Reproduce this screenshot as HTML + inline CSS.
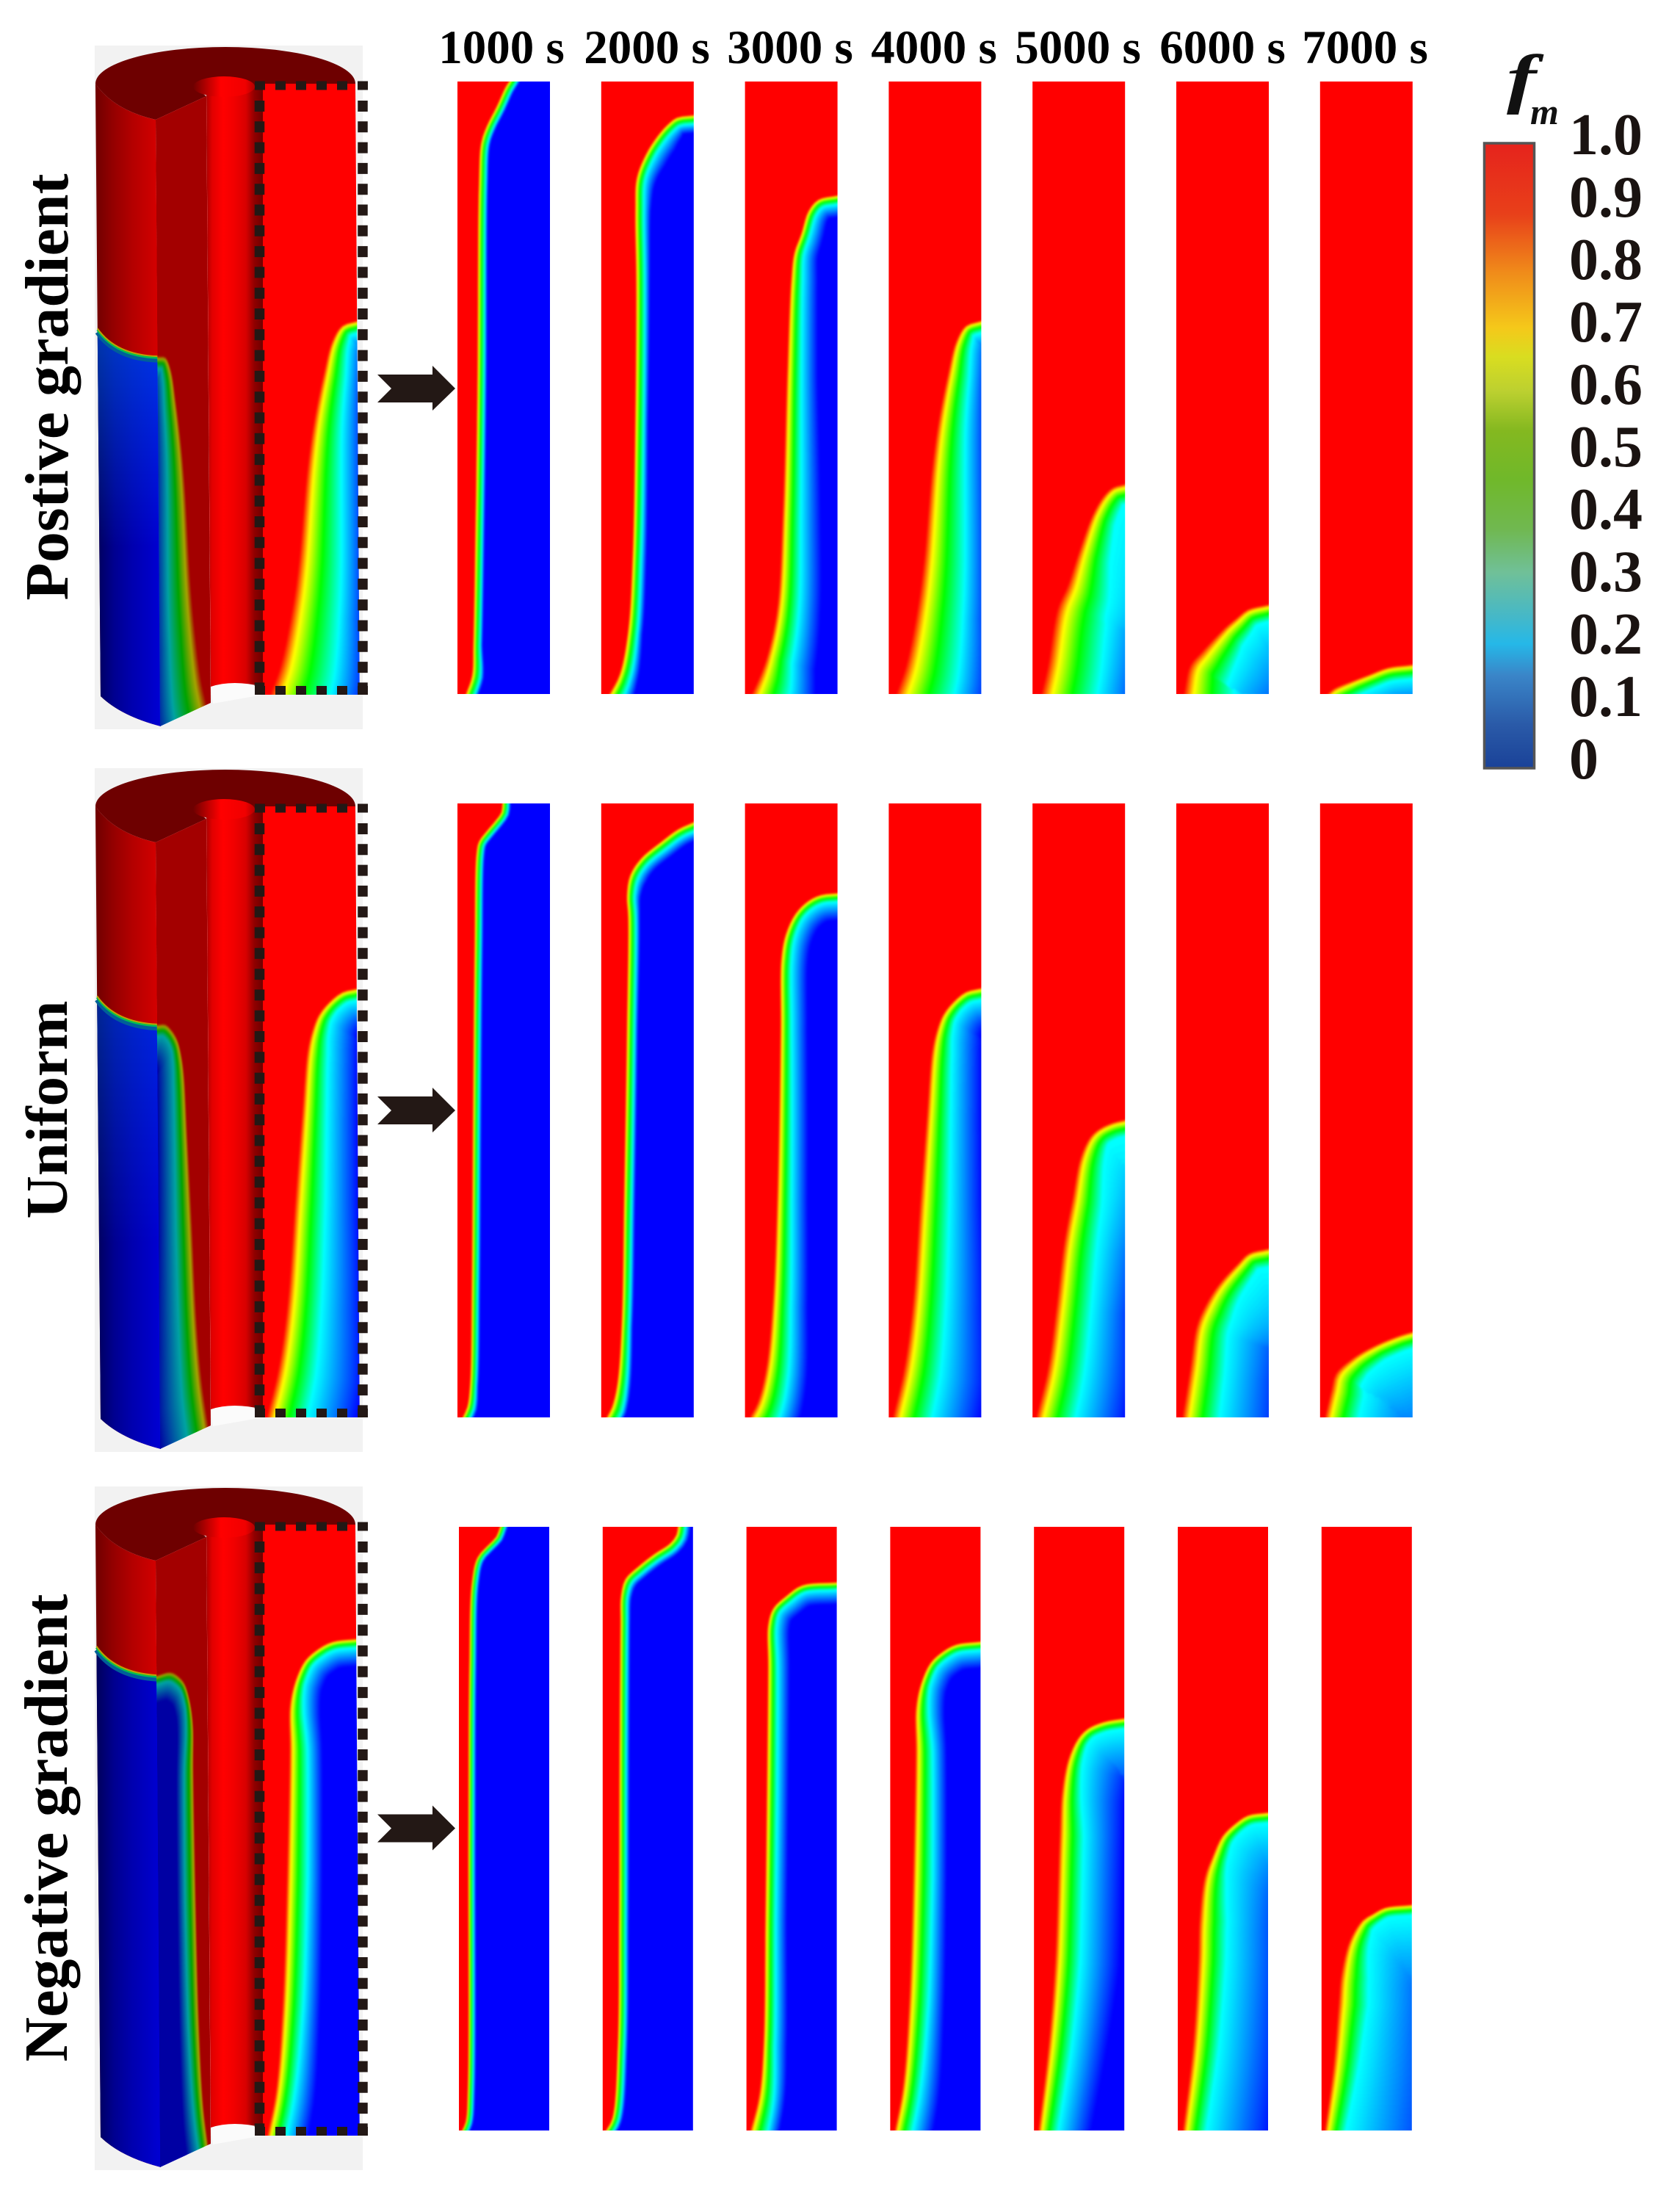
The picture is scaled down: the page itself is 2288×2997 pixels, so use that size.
<!DOCTYPE html>
<html lang="en">
<head>
<meta charset="utf-8">
<title>Melt fraction evolution for gradient cases</title>
<style>
html,body{margin:0;padding:0;background:#fff;width:2288px;height:2997px;overflow:hidden;}
svg{display:block;}
text{font-family:"Liberation Serif",serif;font-weight:bold;}
</style>
</head>
<body>
<svg id="figure" xmlns="http://www.w3.org/2000/svg" width="2288" height="2997" viewBox="0 0 2288 2997">
  <defs>
    <filter id="field-blur" x="-5%" y="-5%" width="110%" height="110%" color-interpolation-filters="sRGB">
      <feGaussianBlur stdDeviation="1.4"/>
    </filter>
    <linearGradient id="colorbar-gradient" x1="0" y1="0" x2="0" y2="1">
      <stop offset="0" stop-color="#e6231c"/>
      <stop offset="0.114" stop-color="#e8401a"/>
      <stop offset="0.208" stop-color="#f08c1a"/>
      <stop offset="0.295" stop-color="#f5c81a"/>
      <stop offset="0.342" stop-color="#d9dd20"/>
      <stop offset="0.397" stop-color="#bcd030"/>
      <stop offset="0.46" stop-color="#84b820"/>
      <stop offset="0.538" stop-color="#70b82a"/>
      <stop offset="0.617" stop-color="#70b850"/>
      <stop offset="0.687" stop-color="#70c098"/>
      <stop offset="0.758" stop-color="#45b8c8"/>
      <stop offset="0.801" stop-color="#25b8e8"/>
      <stop offset="0.852" stop-color="#3a85c8"/>
      <stop offset="0.931" stop-color="#2a5aa8"/>
      <stop offset="1" stop-color="#1a4298"/>
    </linearGradient>
    <linearGradient id="outer-red" gradientUnits="userSpaceOnUse" x1="130" y1="0" x2="215" y2="0">
      <stop offset="0" stop-color="#700000"/>
      <stop offset="0.3" stop-color="#960000"/>
      <stop offset="0.6" stop-color="#b40000"/>
      <stop offset="1" stop-color="#d40000"/>
    </linearGradient>
    <linearGradient id="outer-blue" gradientUnits="userSpaceOnUse" x1="130" y1="0" x2="215" y2="0">
      <stop offset="0" stop-color="#000058"/>
      <stop offset="0.3" stop-color="#000090"/>
      <stop offset="0.6" stop-color="#0000b0"/>
      <stop offset="1" stop-color="#0000d0"/>
    </linearGradient>
    <linearGradient id="outer-tint" x1="0" y1="0" x2="0" y2="1">
      <stop offset="0" stop-color="#0070ff" stop-opacity="1"/>
      <stop offset="0.55" stop-color="#0070ff" stop-opacity="0"/>
    </linearGradient>
    <linearGradient id="core-body" gradientUnits="userSpaceOnUse" x1="281" y1="0" x2="358" y2="0">
      <stop offset="0" stop-color="#a80000"/>
      <stop offset="0.1" stop-color="#e00000"/>
      <stop offset="0.3" stop-color="#ff0000"/>
      <stop offset="0.5" stop-color="#f00000"/>
      <stop offset="0.7" stop-color="#d80000"/>
      <stop offset="0.85" stop-color="#900000"/>
      <stop offset="1" stop-color="#700000"/>
    </linearGradient>
    <linearGradient id="core-cap" gradientUnits="userSpaceOnUse" x1="263" y1="0" x2="347" y2="0">
      <stop offset="0" stop-color="#6e0000"/>
      <stop offset="0.25" stop-color="#c00000"/>
      <stop offset="0.45" stop-color="#ff0000"/>
      <stop offset="0.85" stop-color="#f00000"/>
      <stop offset="1" stop-color="#b00000"/>
    </linearGradient>
  </defs>

  <g id="views"></g>
  <g id="panels"></g>

  <g font-size="65" text-anchor="middle" fill="#000">
    <text x="683" y="86">1000 s</text>
    <text x="881" y="86">2000 s</text>
    <text x="1076" y="86">3000 s</text>
    <text x="1272" y="86">4000 s</text>
    <text x="1468" y="86">5000 s</text>
    <text x="1665" y="86">6000 s</text>
    <text x="1859" y="86">7000 s</text>
  </g>

  <g text-anchor="middle" fill="#000">
    <text font-size="84" transform="translate(92,527) rotate(-90)">Postive gradient</text>
    <text font-size="81" transform="translate(91,1511) rotate(-90)">Uniform</text>
    <text font-size="84" transform="translate(91,2489) rotate(-90)">Negative gradient</text>
  </g>

  <g>
    <rect x="2021.5" y="195" width="68" height="851" fill="url(#colorbar-gradient)" stroke="#555" stroke-width="3.5"/>
    <text transform="translate(2052,137) scale(1.35,1)" font-size="90" font-style="italic" fill="#111">f</text>
    <text x="2084" y="169" font-size="50" font-style="italic" fill="#111">m</text>
    <g id="colorbar-ticks"></g>
  </g>
</svg>

<script>
const caseNames = ['positive', 'uniform', 'negative'];
const timeSeconds = [1000, 2000, 3000, 4000, 5000, 6000, 7000];
const colorbarValues = [1, 0.9, 0.8, 0.7, 0.6, 0.5, 0.4, 0.3, 0.2, 0.1, 0];
const colorbarLabels = ['1.0', '0.9', '0.8', '0.7', '0.6', '0.5', '0.4', '0.3', '0.2', '0.1', '0'];
const wallTint = [0.5, 0.35, 0];

// Each profile row: radial position of the melt front, height, depth to fm=0.25, depth to fm=0.
const positiveInterface = [
  [[.085,0,.1,.14],[.15,.03,.1,.14],[.165,.08,.08,.11],[.19,.29,.08,.11],[.21,.52,.08,.11],[.225,.83,.08,.11],[.25,.90,.08,.11],[.31,.927,.08,.11],[.42,.96,.08,.11],[.51,.99,.08,.11],[.55,1,.08,.11]],
  [[.08,0,.16,.28],[.19,.032,.13,.22],[.28,.10,.11,.17],[.33,.216,.1,.16],[.36,.445,.1,.15],[.37,.674,.1,.16],[.36,.789,.1,.18],[.376,.842,.1,.22],[.475,.881,.1,.25],[.6,.911,.1,.25],[.71,.93,.1,.22],[.816,.942,.1,.2],[1,.946,.1,.2]],
  [[.065,0,.42,.7],[.16,.032,.36,.65],[.234,.063,.28,.55],[.34,.139,.24,.48],[.40,.292,.2,.42],[.447,.521,.16,.34],[.49,.674,.13,.3],[.525,.72,.11,.27],[.60,.751,.1,.25],[.68,.789,.1,.24],[.79,.808,.1,.24],[1,.815,.1,.24]],
  [[.07,0,.62,1],[.177,.047,.58,.95],[.30,.139,.5,.8],[.37,.216,.45,.72],[.46,.368,.36,.62],[.53,.445,.3,.55],[.63,.521,.24,.45],[.72,.575,.18,.4],[.83,.602,.14,.38],[.99,.61,.13,.38]],
  [[.085,0,.6,1.1],[.156,.047,.58,1.1],[.26,.139,.55,1.2],[.37,.177,.48,1.5],[.49,.231,.36,2],[.64,.292,.27,2.5],[.76,.323,.24,3],[.865,.338,.22,3],[1,.344,.22,3]],
  [[.07,0,.55,1.1],[.14,.047,.5,1.15],[.27,.07,.42,1.2],[.52,.109,.28,1.3],[.64,.124,.24,1.3],[.77,.139,.2,1.3],[.99,.147,.18,1.3]],
  [[.07,0,.25,.7],[.14,.009,.22,.7],[.38,.024,.17,.6],[.52,.032,.16,.58],[.73,.044,.16,.56],[.985,.049,.16,.56]]
];
const uniformInterface = [
  [[.05,0,.08,.12],[.10,.017,.08,.12],[.13,.052,.07,.1],[.15,.216,.07,.1],[.163,.491,.07,.1],[.18,.766,.07,.1],[.2,.918,.07,.1],[.227,.938,.07,.1],[.31,.955,.07,.1],[.41,.973,.07,.1],[.47,.986,.07,.1],[.48,1,.07,.1]],
  [[.05,0,.13,.18],[.106,.017,.13,.18],[.163,.052,.11,.16],[.213,.148,.09,.13],[.24,.354,.09,.13],[.27,.629,.09,.13],[.284,.814,.09,.14],[.27,.849,.09,.16],[.305,.883,.1,.2],[.425,.911,.1,.2],[.64,.938,.1,.2],[.83,.959,.1,.2],[.99,.97,.1,.2]],
  [[.043,0,.3,.53],[.128,.024,.28,.5],[.22,.079,.25,.46],[.29,.182,.2,.39],[.34,.354,.16,.34],[.376,.629,.125,.3],[.383,.746,.12,.3],[.433,.787,.11,.3],[.54,.821,.1,.3],[.68,.842,.1,.3],[.82,.852,.1,.3],[1,.855,.1,.3]],
  [[.035,0,.42,.95],[.156,.079,.4,.92],[.25,.182,.36,.8],[.333,.354,.32,.68],[.404,.491,.26,.6],[.46,.595,.22,.55],[.51,.629,.18,.52],[.58,.656,.15,.48],[.69,.677,.13,.45],[.83,.694,.13,.45],[.99,.70,.13,.45]],
  [[.03,0,.42,1],[.156,.079,.4,.95],[.25,.182,.38,.88],[.333,.285,.36,.95],[.42,.354,.33,1.1],[.51,.423,.27,1.5],[.617,.457,.22,2],[.72,.471,.19,2.6],[.865,.481,.18,3],[1,.486,.18,3]],
  [[.057,0,.4,1.1],[.14,.079,.38,1.05],[.21,.148,.35,1.1],[.305,.182,.33,1.3],[.447,.216,.28,1.6],[.66,.251,.22,2],[.78,.268,.2,2.4],[.99,.276,.2,2.4]],
  [[.043,0,.36,1.3],[.113,.045,.36,1.3],[.163,.072,.34,1.3],[.376,.1,.24,1.4],[.62,.12,.19,1.6],[.87,.135,.18,1.6],[.985,.14,.18,1.6]]
];
const negativeInterface = [
  [[.03,0,.06,.09],[.07,.014,.06,.09],[.094,.07,.06,.09],[.10,.488,.06,.09],[.11,.768,.06,.09],[.138,.907,.06,.09],[.2,.949,.06,.09],[.32,.97,.06,.09],[.41,.984,.06,.09],[.45,1,.06,.09]],
  [[.03,0,.08,.12],[.10,.02,.08,.12],[.16,.14,.08,.12],[.174,.349,.08,.12],[.18,.628,.08,.12],[.19,.837,.08,.12],[.196,.886,.08,.13],[.246,.914,.09,.15],[.39,.935,.09,.15],[.57,.956,.09,.15],[.74,.973,.09,.15],[.81,.987,.09,.15],[.826,1,.09,.15]],
  [[.036,0,.2,.33],[.13,.056,.17,.3],[.18,.14,.13,.27],[.2,.349,.12,.25],[.217,.558,.12,.25],[.232,.768,.11,.25],[.232,.837,.1,.25],[.29,.865,.09,.25],[.435,.886,.09,.25],[.616,.904,.09,.25],[1,.909,.09,.25]],
  [[.043,0,.2,.43],[.13,.07,.2,.42],[.2,.209,.22,.4],[.246,.419,.22,.38],[.275,.628,.19,.35],[.275,.698,.15,.33],[.333,.74,.11,.3],[.44,.775,.1,.3],[.587,.795,.1,.3],[.73,.806,.1,.3],[1,.811,.1,.3]],
  [[.043,0,.22,.58],[.152,.14,.26,.65],[.225,.279,.28,.72],[.275,.488,.27,.72],[.3,.558,.22,.72],[.37,.614,.17,.75],[.478,.649,.13,.85],[.587,.666,.12,.9],[.77,.678,.12,.9],[1,.684,.12,.9]],
  [[.05,0,.26,1],[.16,.14,.29,1],[.217,.279,.31,1],[.232,.349,.31,1],[.29,.419,.25,1.05],[.377,.454,.18,1.1],[.486,.488,.14,1.2],[.63,.509,.12,1.2],[.775,.523,.12,1.2],[1,.528,.12,1.2]],
  [[.03,0,.23,1.3],[.123,.105,.28,1.25],[.18,.209,.33,1.2],[.21,.258,.31,1.2],[.304,.314,.23,1.3],[.45,.349,.16,1.5],[.558,.359,.13,1.6],[.70,.37,.12,1.6],[1,.375,.12,1.6]]
];

const caseProfiles = [positiveInterface, uniformInterface, negativeInterface];

const NS = 'http://www.w3.org/2000/svg';
const rowTop = [111, 1094, 2079];
const rowHeight = [834, 836, 822];
const rowLeft = [623, 623, 625];
const rowWidth = [126, 126, 123];
const panelPitch = 195.8;
const viewShift = [0, 984, 1962];
const arrowCentre = [529, 1512, 2489.5];
const headBands = 30;
const tailBands = 36;
const snapshotForView = 3;
const svgRoot = document.getElementById('figure');
const viewsLayer = document.getElementById('views');
const panelsLayer = document.getElementById('panels');
let clipCounter = 0;

function make(tag, attrs, parent) {
  const node = document.createElementNS(NS, tag);
  for (const key in attrs) node.setAttribute(key, attrs[key]);
  if (parent) parent.appendChild(node);
  return node;
}

function jetColor(f) {
  const clamp = v => Math.max(0, Math.min(1, v));
  const r = clamp(4 * f - 2);
  const g = f < 0.25 ? clamp(4 * f) : (f > 0.75 ? clamp(4 * (1 - f)) : 1);
  const b = clamp(2 - 4 * f);
  return 'rgb(' + Math.round(r * 255) + ',' + Math.round(g * 255) + ',' + Math.round(b * 255) + ')';
}

function smoothCurve(profile, W, H) {
  const pts = profile.map(p => ({ x: p[0] * W, y: (1 - p[1]) * H, a: p[2] * W, b: p[3] * W }));
  const out = [];
  const gap = (a, b) => Math.max(1e-3, Math.sqrt(Math.hypot(b.x - a.x, b.y - a.y)));
  const mix = (a, b, ta, tb, t, key) => ((tb - t) * a[key] + (t - ta) * b[key]) / (tb - ta);
  for (let i = 0; i < pts.length - 1; i++) {
    const p1 = pts[i];
    const p2 = pts[i + 1];
    const p0 = pts[i - 1] || { x: 2 * p1.x - p2.x, y: 2 * p1.y - p2.y };
    const p3 = pts[i + 2] || { x: 2 * p2.x - p1.x, y: 2 * p2.y - p1.y };
    const t0 = 0;
    const t1 = t0 + gap(p0, p1);
    const t2 = t1 + gap(p1, p2);
    const t3 = t2 + gap(p2, p3);
    const len = Math.hypot(p2.x - p1.x, p2.y - p1.y);
    const n = Math.max(2, Math.min(14, Math.ceil(len / 8)));
    for (let k = 0; k < n; k++) {
      const u = k / n;
      const t = t1 + u * (t2 - t1);
      const pos = {};
      for (const key of ['x', 'y']) {
        const a1 = mix(p0, p1, t0, t1, t, key);
        const a2 = mix(p1, p2, t1, t2, t, key);
        const a3 = mix(p2, p3, t2, t3, t, key);
        const b1 = ((t2 - t) * a1 + (t - t0) * a2) / (t2 - t0);
        const b2 = ((t3 - t) * a2 + (t - t1) * a3) / (t3 - t1);
        pos[key] = ((t2 - t) * b1 + (t - t1) * b2) / (t2 - t1);
      }
      pos.a = p1.a + (p2.a - p1.a) * u;
      pos.b = p1.b + (p2.b - p1.b) * u;
      out.push(pos);
    }
  }
  const end = pts[pts.length - 1];
  out.push({ x: end.x, y: end.y, a: end.a, b: end.b });
  for (let i = 0; i < out.length; i++) {
    const a = out[Math.max(0, i - 2)];
    const b = out[Math.min(out.length - 1, i + 2)];
    const d = Math.max(1e-3, Math.hypot(b.x - a.x, b.y - a.y));
    out[i].tx = (b.x - a.x) / d;
    out[i].ty = (b.y - a.y) / d;
  }
  const first = out[0];
  const last = out[out.length - 1];
  const startExt = { x: first.x - first.tx * 35, y: first.y - first.ty * 35, a: first.a, b: first.b, tx: first.tx, ty: first.ty };
  const endExt = { x: last.x + last.tx * 35, y: last.y + last.ty * 35, a: last.a, b: last.b, tx: last.tx, ty: last.ty };
  return [startExt].concat(out, [endExt]);
}

function depthAtLevel(q, f) {
  if (f >= 0.25) {
    const s = (1 - f) / 0.75;
    const warped = s < 0.33 ? s * 0.6 : (s < 0.67 ? 0.2 + (s - 0.33) * 1.03 : 0.55 + (s - 0.67) * 1.36);
    return warped * q.a;
  }
  return q.a + (q.b - q.a) * (0.25 - f) / 0.25;
}

function bandPath(curve, f, W, H) {
  const depths = curve.map(q => depthAtLevel(q, f));
  const poly = [];
  curve.forEach((p, i) => {
    const d = depths[i];
    const ox = p.x - p.ty * d;
    const oy = p.y + p.tx * d;
    let hidden = false;
    for (let j = 0; j < curve.length; j++) {
      const q = curve[j];
      const reach = 0.97 * Math.min(d, depths[j]);
      const dx = ox - q.x;
      const dy = oy - q.y;
      if (dx * dx + dy * dy < reach * reach) { hidden = true; break; }
    }
    if (!hidden) poly.push([Math.min(W + 40, Math.max(-20, ox)), Math.min(H + 45, Math.max(-35, oy))]);
  });
  if (poly.length < 2) return '';
  const head = poly[0];
  const tail = poly[poly.length - 1];
  poly.push([W + 45, tail[1]], [W + 45, H + 45], [head[0], H + 45]);
  return 'M' + poly.map(p => p[0].toFixed(1) + ',' + p[1].toFixed(1)).join('L') + 'Z';
}

function bandLevels() {
  const levels = [];
  for (let i = 1; i <= headBands; i++) levels.push(1 - 0.75 * i / headBands);
  for (let i = 1; i <= tailBands; i++) levels.push(0.25 - 0.25 * i / tailBands);
  return levels;
}

function drawField(parent, profile, W, H, transform, clipPoints, shade) {
  const clipId = 'field-clip-' + (clipCounter++);
  const defs = svgRoot.querySelector('defs');
  const clip = make('clipPath', { id: clipId }, defs);
  make('polygon', { points: clipPoints }, clip);
  const outer = make('g', { transform: transform, 'clip-path': 'url(#' + clipId + ')' }, parent);
  const inner = make('g', { filter: 'url(#field-blur)' }, outer);
  const base = make('rect', { x: -30, y: -40, width: W + 80, height: H + 90, fill: '#ff0000' }, inner);
  
  
  const curve = smoothCurve(profile, W, H);
  bandLevels().forEach(f => {
    const d = bandPath(curve, f, W, H);
    if (!d) return;
    const band = make('path', { d: d, fill: jetColor(f) }, inner);
    
    
  });
  if (shade) {
    const overlay = make('rect', { x: 0, y: 0, width: W, height: H, fill: '#000', opacity: shade }, outer);
    
    
  }
  return outer;
}

function panelX(row, i) { return rowLeft[row] + i * panelPitch; }

function drawCylinder(row, profile) {
  const dy = viewShift[row];
  const g = make('g', { transform: 'translate(0,' + dy + ')' }, viewsLayer);
  
  

  const backdrop = make('rect', { x: 129, y: 62, width: 365, height: 931, fill: '#f2f2f2' }, g);
  
  

  const hole = make('path', { d: 'M287,935Q317,925 358,935L358,946L290,958Z', fill: '#fbfbfb' }, g);
  
  

  const topFace = make('path', {
    d: 'M130,114A177,50 0 0 1 484,114L484,122L347,122L263,118L281,131L212,163Q155,150 130,114Z',
    fill: '#6e0000'
  }, g);
  
  

  const core = make('path', { d: 'M281,118L287,935Q317,925 358,935L358,118Z', fill: 'url(#core-body)' }, g);
  
  

  const cap = make('ellipse', { cx: 305, cy: 118, rx: 42, ry: 14, fill: 'url(#core-cap)' }, g);
  
  

  const outerRed = make('path', { d: 'M130,114L137,948Q165,975 219,989L212,163Q155,150 130,114Z', fill: 'url(#outer-red)' }, g);
  
  

  const z = profile[profile.length - 1][1];
  const lx = 130 + 7 * (1 - z);
  const ly = 948 - 834 * z + 8;
  const vx = 212 + 7 * (1 - z);
  const vy = 989 - 826 * z;
  const arc = (shift) => 'M' + lx + ',' + (ly + shift) + 'Q' + (lx + 25) + ',' + (ly + 36 + shift) + ' ' + vx + ',' + (vy + shift);
  const solidPath = arc(0) + 'L219,989Q165,975 137,948Z';

  const outerBlue = make('path', { d: solidPath, fill: 'url(#outer-blue)' }, g);
  
  

  if (wallTint[row] > 0) {
    const tint = make('path', { d: solidPath, fill: 'url(#outer-tint)', opacity: wallTint[row] }, g);
    
    
  }

  [[5, '#006098', 7], [2, '#00c050', 3], [0, '#c0a000', 2]].forEach(s => {
    const line = make('path', { d: arc(s[0]), fill: 'none', stroke: s[1], 'stroke-width': s[2] }, g);
    
    
  });

  const W = 126;
  const H = 834;
  const wedge = drawField(g, profile, W, H,
    'matrix(' + (-69 / W) + ',' + (32 / W) + ',' + (6 / H) + ',' + (826 / H) + ',281,131)',
    '0,0 ' + W + ',0 ' + W + ',' + H + ' 0,' + H, 0.36);
  
  

  const section = drawField(g, profile, W, H, 'matrix(1.03,0,0,1,358,111)',
    '0,3 122.3,3 128,835 0,835', 0);
  
  

  const dashes = make('g', { fill: 'none', stroke: '#231815' }, g);
  
  
  make('line', { x1: 347, y1: 116.5, x2: 501, y2: 116.5, 'stroke-width': 12, 'stroke-dasharray': '14 14' }, dashes);
  make('line', { x1: 347, y1: 940, x2: 501, y2: 940, 'stroke-width': 12, 'stroke-dasharray': '14 14' }, dashes);
  make('line', { x1: 353.5, y1: 137, x2: 353.5, y2: 934, 'stroke-width': 13.5, 'stroke-dasharray': '15 13.3' }, dashes);
  make('line', { x1: 494, y1: 137, x2: 494, y2: 934, 'stroke-width': 13.5, 'stroke-dasharray': '15 13.3' }, dashes);
}

caseProfiles.forEach((profiles, row) => {
  const W = rowWidth[row];
  const H = rowHeight[row];
  timeSeconds.forEach((time, i) => {
    const x = panelX(row, i);
    const y = rowTop[row];
    const g = drawField(panelsLayer, profiles[i], W, H, 'translate(' + x + ',' + y + ')',
      '0,0 ' + W + ',0 ' + W + ',' + H + ' 0,' + H, 0);
    
    
  });

  const cy = arrowCentre[row];
  const arrow = make('path', {
    d: 'M514,' + (cy - 19) + 'L589,' + (cy - 19) + 'L589,' + (cy - 31) + 'L620,' + cy + 'L589,' + (cy + 30) +
       'L589,' + (cy + 19) + 'L514,' + (cy + 19) + 'L533,' + cy + 'Z',
    fill: '#231815'
  }, panelsLayer);
  
  

  drawCylinder(row, profiles[snapshotForView]);
});

function colorbarY(value) { return 1060 - 850 * value; }

const tickLayer = document.getElementById('colorbar-ticks');
colorbarValues.forEach((value, i) => {
  const label = make('text', { x: 2137, y: colorbarY(value), 'font-size': 80, fill: '#1a1311' }, tickLayer);
  label.textContent = colorbarLabels[i];
  
  
});
</script>
</body>
</html>
